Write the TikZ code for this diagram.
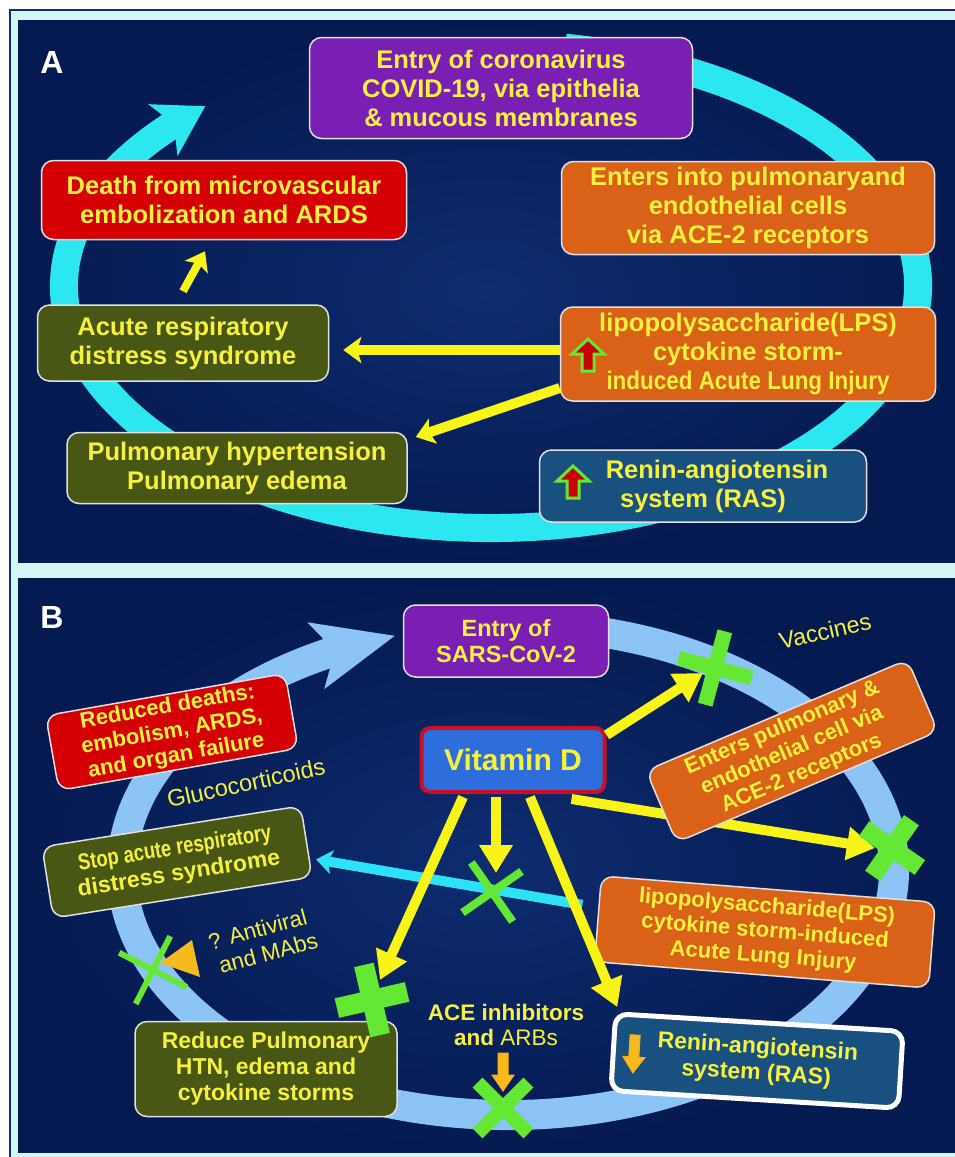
\documentclass[tikz,border=0pt]{standalone}
\usepackage{fontspec}
\setmainfont{Liberation Sans}
\usetikzlibrary{arrows.meta,bending}

\definecolor{framecyan}{RGB}{214,246,246}
\definecolor{framenavy}{RGB}{20,40,140}
\definecolor{panelin}{RGB}{14,44,112}
\definecolor{panelout}{RGB}{5,26,80}
\definecolor{txtyel}{RGB}{246,240,62}
\definecolor{boxedge}{RGB}{225,225,225}
\definecolor{vpurple}{RGB}{122,31,180}
\definecolor{vorange}{RGB}{218,98,24}
\definecolor{vred}{RGB}{212,0,4}
\definecolor{volive}{RGB}{72,88,20}
\definecolor{vsteel}{RGB}{24,80,128}
\definecolor{vitblue}{RGB}{46,110,220}
\definecolor{vitred}{RGB}{200,16,40}
\definecolor{ringcyan}{RGB}{44,230,240}
\definecolor{ringblue}{RGB}{140,196,246}
\definecolor{arryel}{RGB}{248,244,24}
\definecolor{arrcyan}{RGB}{44,226,246}
\definecolor{xlime}{RGB}{100,232,52}
\definecolor{iconred}{RGB}{200,0,0}
\definecolor{arrgold}{RGB}{246,186,28}

\begin{document}
\begin{tikzpicture}[x=1pt,y=-1pt,
  boxA/.style={draw=boxedge, line width=1.5pt, rounded corners=12pt, align=center,
    text=txtyel, inner sep=0pt, font=\bfseries\fontsize{25.5}{29}\selectfont},
  boxB/.style={boxA, font=\bfseries\fontsize{22}{24.8}\selectfont},
  note/.style={text=txtyel, align=center, inner sep=0pt, font=\fontsize{22.5}{25.2}\selectfont},
  lbl/.style={text=white, inner sep=0pt, font=\bfseries\fontsize{32}{32}\selectfont},
  ringA/.style={draw=ringcyan, line width=28pt, -{Stealth[width=58pt,length=48pt,inset=12pt]}},
  ringB/.style={draw=ringblue, line width=30pt, -{Stealth[width=66pt,length=80pt,inset=18pt]}},
  yarrowA/.style={draw=arryel, line width=10pt, -{Stealth[width=26pt,length=18pt,inset=4pt]}},
  yarrowB/.style={draw=arryel, line width=10pt, -{Triangle[width=32pt,length=28pt]}},
  carrow/.style={draw=arrcyan, line width=10pt, -{Stealth[width=24pt,length=16pt,inset=4pt]}},
  pics/cross/.style 2 args={code={
    \draw[xlime, line width=#2] (-#1,0) -- (#1,0) (0,-#1) -- (0,#1);}},
  pics/uparr/.style={code={
    \filldraw[fill=iconred, draw=xlime, line width=3pt, line join=miter]
      (0,-16) -- (16,-1) -- (6,-1) -- (6,16) -- (-6,16) -- (-6,-1) -- (-16,-1) -- cycle;}},
  pics/downarr/.style={code={
    \filldraw[fill=arrgold, draw=arrgold!85!orange, line width=1pt]
      (-5,-19) -- (5,-19) -- (5,3) -- (11,3) -- (0,19) -- (-11,3) -- (-5,3) -- cycle;}},
]

\useasboundingbox (0,0) rectangle (955,1157);
\fill[white] (0,0) rectangle (955,1157);
\filldraw[fill=framecyan, draw=framenavy, line width=2pt] (10,10) rectangle (965,1167);
\shade[inner color=panelin, outer color=panelout] (18,20) rectangle (955,562);
\shade[inner color=panelin, outer color=panelout] (18,578) rectangle (955,1152);

% panel A
\node[lbl] (labA) at (52,62) {A};
\draw[ringA] (491,286) ++(280:427 and 242)
  arc[start angle=280, end angle=588, x radius=427, y radius=242];

\node[boxA, fill=vpurple, minimum width=383pt, minimum height=101pt] (entryA) at (501,88)
  {Entry of coronavirus\\COVID-19, via epithelia\\\& mucous membranes};
\node[boxA, fill=vorange, minimum width=373pt, minimum height=93pt] (acetwoA) at (748,208)
  {Enters into pulmonaryand\\endothelial cells\\via ACE-2 receptors};
\node[boxA, fill=vred, minimum width=365pt, minimum height=79pt] (deathA) at (224,200)
  {Death from microvascular\\embolization and ARDS};
\node[boxA, fill=volive, minimum width=291pt, minimum height=76pt] (ardsA) at (183,343)
  {Acute respiratory\\distress syndrome};
\node[boxA, fill=vorange, minimum width=375pt, minimum height=94pt] (lpsA) at (748,354)
  {lipopolysaccharide(LPS)\\cytokine storm-\\\scalebox{0.88}[1]{induced Acute Lung Injury}};
\node[boxA, fill=volive, minimum width=340pt, minimum height=71pt] (pulmA) at (237,468)
  {Pulmonary hypertension\\Pulmonary edema};
\node[boxA, fill=vsteel, minimum width=327pt, minimum height=72pt] (rasA) at (703,486)
  {\hspace*{28pt}Renin-angiotensin\\system (RAS)};

\pic at (588,355) {uparr};
\pic at (573,482) {uparr};

\draw[yarrowA, line width=8pt] ([yshift=13pt]ardsA.north) -- ([xshift=-19pt,yshift=-11pt]deathA.south);
\draw[yarrowA] ([yshift=4pt]lpsA.west) -- ([xshift=14pt,yshift=-7pt]ardsA.east);
\draw[yarrowA] ([yshift=-34pt]lpsA.west) -- ([xshift=8pt,yshift=31pt]pulmA.east);

% panel B
\node[lbl] (labB) at (52,617) {B};
\draw[ringB] (508,870) ++(280:386 and 245)
  arc[start angle=280, end angle=613, x radius=386, y radius=245];

\coordinate (xvac) at (715,668);
\coordinate (xace) at (892,848);
\coordinate (xmid) at (492,892);
\coordinate (xpulm) at (372,1000);
\coordinate (xanti) at (153,970);
\coordinate (xacei) at (503,1108);

\node[draw=vitred, line width=4pt, fill=vitblue, rounded corners=9pt, text=txtyel,
  inner sep=0pt, minimum width=183pt, minimum height=64pt,
  font=\bfseries\fontsize{30}{30}\selectfont] (vitd) at (513,760) {Vitamin D};
\draw[yarrowB] ([xshift=-35pt,yshift=-5pt]vitd.south east) -- ([xshift=-17pt]xace);

\node[boxB, fill=vpurple, minimum width=205pt, minimum height=72pt,
  font=\bfseries\fontsize{23.5}{26.5}\selectfont] (entryB) at (506,641)
  {Entry of\\SARS-CoV-2};
\node[boxB, fill=vred, rotate=10, minimum width=243pt, minimum height=76pt] (deathB) at (172,732)
  {Reduced deaths:\\embolism, ARDS,\\and organ failure};
\node[boxB, fill=vorange, rotate=23, minimum width=284pt, minimum height=78pt] (acetwoB) at (792,751)
  {Enters pulmonary \&\\endothelial cell via\\ACE-2 receptors};
\node[boxB, fill=volive, rotate=9, minimum width=262pt, minimum height=72pt,
  font=\bfseries\fontsize{23}{26}\selectfont] (stopB) at (177,862)
  {\scalebox{0.8}[1]{Stop acute respiratory}\\distress syndrome};
\node[boxB, fill=vorange, rotate=-4.5, minimum width=335pt, minimum height=86pt] (lpsB) at (765,932)
  {lipopolysaccharide(LPS)\\cytokine storm-induced\\Acute Lung Injury};
\node[boxB, fill=volive, minimum width=262pt, minimum height=95pt,
  font=\bfseries\fontsize{23}{26}\selectfont] (pulmB) at (266,1069)
  {Reduce Pulmonary\\HTN, edema and\\cytokine storms};
\node[boxB, fill=vsteel, draw=white, line width=5pt, rotate=-3.5, minimum width=288pt,
  minimum height=77pt, font=\bfseries\fontsize{23}{26}\selectfont] (rasB) at (757,1061)
  {Renin-angiotensin\\system (RAS)};

\draw[carrow] ([xshift=-15pt,yshift=14pt]lpsB.west) -- ([xshift=9pt,yshift=-18pt]stopB.east);

\draw[yarrowB] ([yshift=-9pt]vitd.north east) -- ([xshift=-12pt,yshift=-5pt]xvac);
\draw[yarrowB] ([xshift=-17pt,yshift=-3pt]vitd.south) -- ([xshift=4pt,yshift=19pt]xmid);
\draw[yarrowB] ([xshift=-50pt,yshift=-3pt]vitd.south) -- ([xshift=8pt,yshift=20pt]xpulm);
\draw[yarrowB] ([xshift=17pt,yshift=-3pt]vitd.south) -- ([xshift=4pt,yshift=4pt]rasB.north west);

\pic[rotate=-15] at (xvac) {cross={38}{15pt}};
\pic[rotate=-35] at (xace) {cross={34}{18pt}};
\pic[rotate=35] at (xmid) {cross={36}{8pt}};
\pic[rotate=13] at (xpulm) {cross={36}{20pt}};
\pic[rotate=-27] at (xanti) {cross={38}{6pt}};
\pic[rotate=45] at (xacei) {cross={36}{14pt}};

\fill[arrgold] (160,963) -- (192,940) -- (200,977) -- cycle;
\pic at (503,1072) {downarr};
\pic[rotate=-3.5] at (634,1054) {downarr};

\node[note, rotate=12, font=\fontsize{23.5}{26}\selectfont] (gluco) at (246,783) {Glucocorticoids};
\node[note, rotate=13, font=\fontsize{23.5}{26}\selectfont] (vacc) at (825,631) {Vaccines};
\node[note, rotate=15, align=left] (antiv) at (263,941) {? Antiviral\\\hspace*{4pt}and MAbs};
\node[note] (acei) at (506,1025)
  {\textbf{ACE inhibitors}\\\textbf{and} ARBs};

\end{tikzpicture}
\end{document}
